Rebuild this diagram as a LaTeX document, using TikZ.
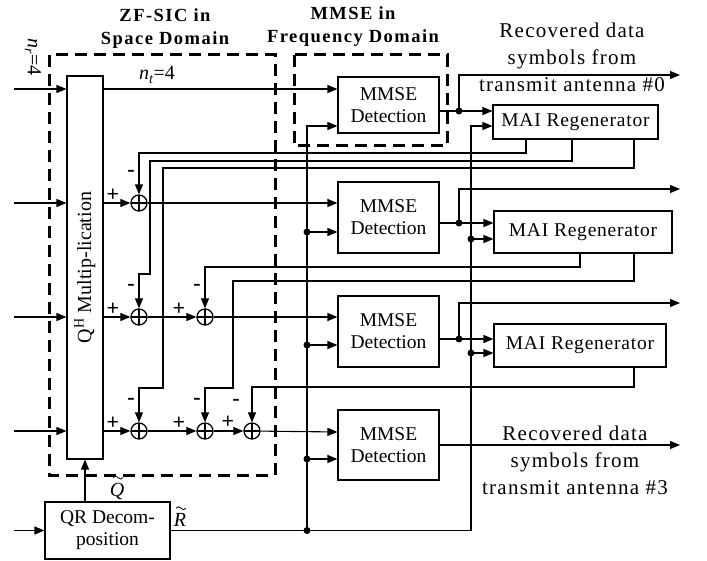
\documentclass[tikz,border=0pt]{standalone}
\usepackage{fontspec}
\setmainfont{Liberation Serif}
\usetikzlibrary{arrows.meta}
\newfontfamily\titlefont[LetterSpace=8]{Liberation Serif}
\newfontfamily\lblfont[LetterSpace=6]{Liberation Serif}
\newfontfamily\maifont[LetterSpace=4]{Liberation Serif}
\begin{document}
\begin{tikzpicture}[x=1pt,y=-1pt,
  ln/.style={line width=1.1pt},
  arr/.style={line width=1.1pt,-{Triangle[length=10pt,width=8pt]}},
  blk/.style={draw,line width=1.1pt,inner sep=0pt,align=center,font=\fontsize{19.5}{22}\selectfont},
  dbox/.style={draw,line width=3pt,dash pattern=on 12pt off 7pt},
  sumc/.style={draw,circle,line width=1.3pt,minimum size=16pt,inner sep=0pt,
    path picture={\draw[line width=1.3pt] (path picture bounding box.north)--(path picture bounding box.south) (path picture bounding box.west)--(path picture bounding box.east);}},
  jdot/.style={circle,fill,inner sep=0pt,minimum size=7pt},
  sgn/.style={font=\fontsize{22}{22}\selectfont\bfseries,inner sep=0pt},
  ttl/.style={align=center,font=\fontsize{18.5}{23}\selectfont\bfseries\titlefont\bfseries},
  lbl/.style={align=center,font=\fontsize{21}{27}\selectfont\lblfont},
  tld/.style={line width=0.8pt}]
\useasboundingbox (0,0) rectangle (707,561);

% dashed regions
\draw[dbox] (49,55) rectangle (275,475);
\draw[dbox] (294,55) rectangle (447,146);
\node[ttl] (t1) at (165,29) {ZF-SIC in\\Space Domain};
\node[ttl] (t2) at (353,27) {MMSE in\\Frequency Domain};

% blocks
\node[blk,minimum width=36pt,minimum height=383pt] (mult) at (85,267.5) {};
\node[rotate=90,font=\fontsize{20}{22}\selectfont] (multtxt) at (mult.center) {Q\textsuperscript{H} Multip-lication};
\node[blk,minimum width=101pt,minimum height=56pt] (det0) at (388.5,105) {MMSE\\Detection};
\node[blk,minimum width=101pt,minimum height=71pt] (det1) at (388.5,217.5) {MMSE\\Detection};
\node[blk,minimum width=101pt,minimum height=71pt] (det2) at (388.5,331.5) {MMSE\\Detection};
\node[blk,minimum width=101pt,minimum height=70pt] (det3) at (388.5,445) {MMSE\\Detection};
\node[blk,font=\fontsize{19.5}{22}\selectfont\maifont,minimum width=165pt,minimum height=34pt] (mai0) at (575.5,122) {MAI Regenerator};
\node[blk,font=\fontsize{19.5}{22}\selectfont\maifont,minimum width=178pt,minimum height=42pt] (mai1) at (583,232) {MAI Regenerator};
\node[blk,font=\fontsize{19.5}{22}\selectfont\maifont,minimum width=172pt,minimum height=43pt] (mai2) at (580,345.5) {MAI Regenerator};
\node[blk,minimum width=125pt,minimum height=57pt] (qr) at (107.5,530.5) {QR Decom-\\position};

% summing nodes
\node[sumc] (s10) at (139,203) {};
\node[sumc] (s20) at (139,317) {};
\node[sumc] (s21) at (205,317) {};
\node[sumc] (s30) at (139,431) {};
\node[sumc] (s31) at (205,431) {};
\node[sumc] (s32) at (252,431) {};

% signs
\foreach \s in {s10,s20,s21,s30,s31}{
  \node[sgn] at ([shift={(-26,-8)}]\s.center) {+};
  \node[sgn] at ([shift={(-8,-30)}]\s.center) {-};
}
\node[sgn] at ([shift={(-24,-9)}]s32.center) {+};
\node[sgn] at ([shift={(-16,-29)}]s32.center) {-};

% input coordinates
\coordinate (in0) at (14,89);
\coordinate (in1) at (14,203);
\coordinate (in2) at (14,317);
\coordinate (in3) at (14,431);
\coordinate (inq) at (14,530.5);
\foreach \i in {in0,in1,in2,in3}{\draw[arr] (\i) -- (\i -| mult.west);}
\draw[arr] (inq) -- (qr.west);
\node[rotate=-90,font=\fontsize{20}{20}\selectfont] (nr) at (33,57) {\textit{n}\textsubscript{\textit{r}}=4};
\node[font=\fontsize{20}{20}\selectfont] (nt) at (157,75) {\textit{n}\textsubscript{\textit{t}}=4};

% rows through the SIC
\draw[arr] (mult.east |- in0) -- (det0.west |- in0);
\draw[arr] (mult.east |- s10) -- (s10);
\draw[arr] (s10) -- (det1.west |- s10);
\draw[arr] (mult.east |- s20) -- (s20);
\draw[arr] (s20) -- (s21);
\draw[arr] (s21) -- (det2.west |- s21);
\draw[arr] (mult.east |- s30) -- (s30);
\draw[arr] (s30) -- (s31);
\draw[arr] (s31) -- (s32);
\draw[arr] (s32) -- (det3.west |- 0,432);

% QR outputs
\draw[arr] (mult.south |- qr.north) -- (mult.south);
\node[font=\fontsize{20}{20}\selectfont\itshape,inner sep=0pt] (qlab) at (117,491) {Q};
\node[font=\fontsize{20}{20}\selectfont\itshape,inner sep=0pt] (rlab) at (180,520) {R};
\draw[tld] ([shift={(-4,-5)}]qlab.north) sin ++(2.5,-1.5) cos ++(2.5,1.5) sin ++(2.5,1.5) cos ++(2.5,-1.5);
\draw[tld] ([shift={(-4,-5)}]rlab.north) sin ++(2.5,-1.5) cos ++(2.5,1.5) sin ++(2.5,1.5) cos ++(2.5,-1.5);
\coordinate (vq) at (307,530.5);
\coordinate (vr) at (471,530.5);
\draw[ln] (qr.east) -- (vr);
\node[jdot] (dq) at (vq) {};
\draw[arr] (vq) |- (det0.west |- 0,126);
\node[jdot] (d1) at (307,232) {};
\node[jdot] (d2) at (307,345) {};
\node[jdot] (d3) at (307,459) {};
\draw[arr] (d1.center) -- (det1.west |- d1);
\draw[arr] (d2.center) -- (det2.west |- d2);
\draw[arr] (d3.center) -- (det3.west |- d3);
\draw[arr] (vr) |- (mai0.west |- 0,126);
\node[jdot] (m1) at (471,239) {};
\node[jdot] (m2) at (471,353) {};
\draw[arr] (m1.center) -- (mai1.west |- m1);
\draw[arr] (m2.center) -- (mai2.west |- m2);

% detector outputs
\coordinate (t0) at (680,75);
\coordinate (t1e) at (680,189);
\coordinate (t2e) at (680,303);
\coordinate (t3e) at (680,445);
\node[jdot] (o0) at (459,111) {};
\node[jdot] (o1) at (459,223) {};
\node[jdot] (o2) at (459,339) {};
\draw[ln] (det0.east |- o0) -- (o0.center);
\draw[ln] (det1.east |- o1) -- (o1.center);
\draw[ln] (det2.east |- o2) -- (o2.center);
\draw[arr] (o0.center) -- (mai0.west |- o0);
\draw[arr] (o1.center) -- (mai1.west |- o1);
\draw[arr] (o2.center) -- (mai2.west |- o2);
\draw[arr] (o0.center) |- (t0);
\draw[arr] (o1.center) |- (t1e);
\draw[arr] (o2.center) |- (t2e);
\draw[arr] (det3.east) -- (t3e);

\node[lbl] (lab0) at (572,57) {Recovered data\\symbols from\\transmit antenna \#0};
\node[lbl] (lab3) at (575,460) {Recovered data\\symbols from\\transmit antenna \#3};

% feedback from MAI regenerators
\draw[arr] (mai0.south -| 526,0) |- (139,153) -- (s10);
\draw[arr] (mai0.south -| 572,0) |- (150,161) -- (150,274) -- (139,274) -- (s20);
\draw[arr] (mai0.south -| 634,0) |- (163,168) -- (163,388) -- (139,388) -- (s30);
\draw[arr] (mai1.south -| 580,0) |- (205,267) -- (s21);
\draw[arr] (mai1.south -| 634,0) |- (233,281) -- (233,388) -- (205,388) -- (s31);
\draw[arr] (mai2.south -| 634,0) |- (252,387) -- (s32);
\end{tikzpicture}
\end{document}
